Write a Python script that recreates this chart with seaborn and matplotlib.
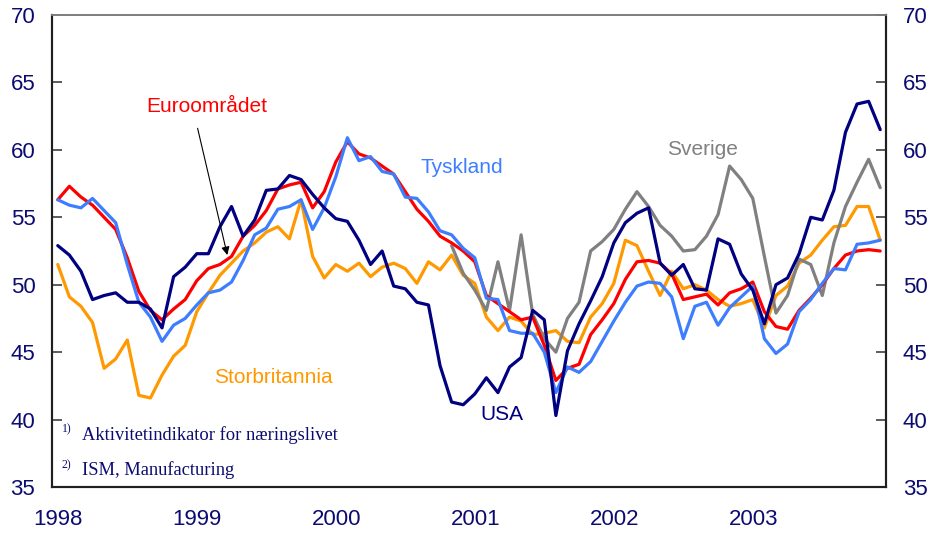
import numpy as np
import pandas as pd
import seaborn as sns
import matplotlib.pyplot as plt

# maanedlige verdier 1998-2003
aar = [1998, 1999, 2000, 2001, 2002, 2003]

euro = [56.3, 57.3, 56.5, 55.9, 55.0, 54.1, 52.0, 49.5, 48.1, 47.4, 48.2, 48.9,
        50.3, 51.2, 51.5, 52.1, 53.6, 54.4, 55.5, 57.1, 57.4, 57.6, 55.7, 56.9,
        59.1, 60.6, 59.7, 59.4, 58.8, 58.2, 56.9, 55.6, 54.7, 53.6, 53.1, 52.5,
        51.7, 49.2, 48.6, 48.0, 47.4, 47.6, 45.5, 42.9, 43.8, 44.1, 46.3, 47.4,
        48.6, 50.4, 51.7, 51.8, 51.6, 50.8, 48.9, 49.1, 49.3, 48.5, 49.4, 49.7,
        50.2, 48.0, 46.9, 46.7, 48.1, 49.0, 50.0, 51.2, 52.2, 52.5, 52.6, 52.5]

tyskland = [56.3, 55.9, 55.7, 56.4, 55.5, 54.6, 51.5, 48.7, 47.6, 45.8, 47.0, 47.5,
            48.5, 49.4, 49.6, 50.2, 51.8, 53.7, 54.2, 55.6, 55.8, 56.3, 54.1, 55.7,
            58.0, 60.9, 59.2, 59.5, 58.4, 58.2, 56.5, 56.4, 55.4, 54.0, 53.7, 52.7,
            52.0, 49.0, 48.9, 46.6, 46.4, 46.4, 45.0, 42.0, 43.9, 43.5, 44.3, 45.8,
            47.3, 48.7, 49.9, 50.2, 50.1, 49.1, 46.0, 48.4, 48.7, 47.0, 48.3, 49.1,
            49.9, 46.0, 44.9, 45.6, 48.0, 48.9, 50.1, 51.2, 51.1, 53.0, 53.1, 53.3]

usa = [52.9, 52.2, 51.0, 48.9, 49.2, 49.4, 48.7, 48.7, 48.2, 46.8, 50.6, 51.3,
       52.3, 52.3, 54.3, 55.8, 53.6, 54.8, 57.0, 57.1, 58.1, 57.8, 56.7, 55.7,
       54.9, 54.7, 53.3, 51.5, 52.5, 49.9, 49.7, 48.7, 48.5, 44.0, 41.3, 41.1,
       41.9, 43.1, 42.0, 43.9, 44.6, 48.1, 47.4, 40.3, 45.1, 47.1, 48.8, 50.6,
       53.1, 54.6, 55.3, 55.7, 51.6, 50.7, 51.5, 49.7, 49.6, 53.4, 53.0, 50.8,
       49.6, 47.1, 50.0, 50.5, 52.3, 55.0, 54.8, 57.0, 61.3, 63.4, 63.6, 61.5]

storbritannia = [51.5, 49.1, 48.4, 47.2, 43.8, 44.5, 45.9, 41.8, 41.6, 43.3, 44.7, 45.5,
                 48.0, 49.4, 50.7, 51.6, 52.5, 53.1, 53.9, 54.3, 53.4, 56.3, 52.1, 50.5,
                 51.5, 51.0, 51.6, 50.6, 51.3, 51.6, 51.2, 50.1, 51.7, 51.1, 52.2, 50.7,
                 50.1, 47.6, 46.6, 47.6, 47.3, 46.3, 46.4, 46.6, 45.8, 45.7, 47.6, 48.6,
                 50.1, 53.3, 52.9, 51.0, 49.2, 51.0, 49.7, 50.0, 49.6, 48.9, 48.4, 48.6,
                 48.9, 46.8, 49.2, 49.9, 51.6, 52.2, 53.3, 54.3, 54.4, 55.8, 55.8, 53.3]

sverige = [np.nan] * 34 + [52.9, 50.85,
           49.6, 48.1, 51.7, 48.1, 53.7, 47.8, 46.0, 45.0, 47.5, 48.7, 52.5, 53.2,
           54.1, 55.6, 56.9, 55.8, 54.4, 53.6, 52.5, 52.6, 53.6, 55.2, 58.8, 57.8,
           56.4, 52.1, 47.9, 49.2, 51.9, 51.5, 49.2, 53.1, 55.8, 57.6, 59.3, 57.2]

maaned = [a + (m + 0.5) / 12 for a in aar for m in range(12)]

serier = {
    "Storbritannia": storbritannia,
    "Sverige": sverige,
    "Euroområdet": euro,
    "Tyskland": tyskland,
    "USA": usa,
}
farger = {
    "Storbritannia": "#FF9900",
    "Sverige": "#808080",
    "Euroområdet": "#FF0000",
    "Tyskland": "#3D7EFF",
    "USA": "#000080",
}

df = pd.concat([pd.DataFrame({"x": maaned, "verdi": v, "serie": k})
                for k, v in serier.items()]).dropna()

sns.set_style("white")
plt.rcParams["font.family"] = ["Liberation Sans", "DejaVu Sans"]

fig = plt.figure(figsize=(9.35, 5.36), dpi=100)
ax = fig.add_axes([0.0556, 0.0914, 0.892, 0.8806])

sns.lineplot(data=df, x="x", y="verdi", hue="serie", palette=farger,
             hue_order=list(serier), lw=2.3, legend=False, ax=ax,
             estimator=None, sort=False)

ax.set_xlim(1998, 2004)
ax.set_ylim(35, 70)
ax.set_xlabel("")
ax.set_ylabel("")

blaa = "#0B0B70"
ax.set_yticks(range(35, 71, 5))
ax.set_xticks(aar + [2004])
ax.set_xticklabels([])
ax.set_xticks([a + 0.045 for a in aar], [str(a) for a in aar], minor=True)
ax.tick_params(axis="x", which="major", direction="in", length=7, width=1.2, color="#404040")
ax.tick_params(axis="x", which="minor", length=0, pad=16, labelsize=16, labelcolor=blaa)
ax.tick_params(axis="y", direction="in", length=7, width=1.2, color="#404040",
               pad=12, labelsize=16, labelcolor=blaa)

ax2 = ax.twinx()
ax2.set_ylim(35, 70)
ax2.set_yticks(range(35, 71, 5))
ax2.tick_params(axis="y", direction="in", length=7, width=1.2, color="#404040",
                pad=12, labelsize=16, labelcolor=blaa)

for a in (ax, ax2):
    for s in ("left", "right", "bottom"):
        a.spines[s].set_color("#202020")
        a.spines[s].set_linewidth(1.5)
    a.spines["top"].set_color("#808080")
    a.spines["top"].set_linewidth(1.3)

ax.text(1999.115, 63.2, "Euroområdet", color="#FF0000", fontsize=15, ha="center", va="center")
ax.annotate("", xy=(1999.266, 52.0), xytext=(1999.043, 61.8),
            arrowprops=dict(arrowstyle="-|>", color="black", lw=0.8, mutation_scale=12))
ax.text(2000.946, 58.7, "Tyskland", color="#3D7EFF", fontsize=15, ha="center", va="center")
ax.text(2002.68, 60.0, "Sverige", color="#808080", fontsize=15, ha="center", va="center")
ax.text(1999.59, 43.1, "Storbritannia", color="#FF9900", fontsize=15, ha="center", va="center")
ax.text(2001.234, 40.35, "USA", color="#000080", fontsize=15, ha="center", va="center")

fn = ["Liberation Serif", "DejaVu Serif"]
ax.text(0.012, 0.122, "1)", transform=ax.transAxes, fontsize=8.5, color=blaa,
        family=fn, ha="left", va="center")
ax.text(0.036, 0.110, "Aktivitetindikator for næringslivet", transform=ax.transAxes,
        fontsize=13.3, color=blaa, family=fn, ha="left", va="center")
ax.text(0.012, 0.045, "2)", transform=ax.transAxes, fontsize=8.5, color=blaa,
        family=fn, ha="left", va="center")
ax.text(0.036, 0.036, "ISM, Manufacturing", transform=ax.transAxes,
        fontsize=13.3, color=blaa, family=fn, ha="left", va="center")

fig.savefig("out.png", dpi=100)
